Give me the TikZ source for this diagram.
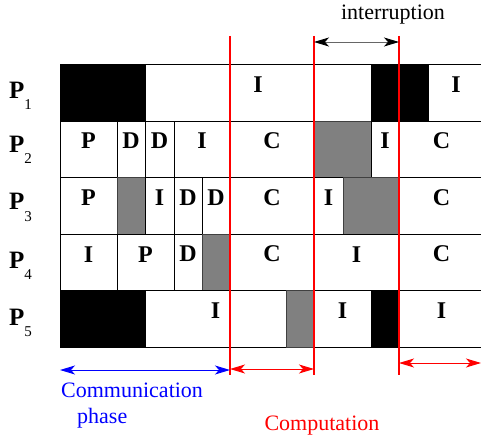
\documentclass[tikz,border=0pt]{standalone}
\usepackage{fontspec}
\setmainfont{Liberation Serif}
\usetikzlibrary{arrows.meta, fit, positioning}

\begin{document}
\begin{tikzpicture}[x=1pt, y=-1pt]
\tikzset{
>={Stealth[length=15pt, width=9pt, inset=4pt]},
  cell/.style={
    rectangle,
    draw=black, line width=0.8pt,
    inner sep=0pt,
    font=\fontsize{24}{24}\selectfont\bfseries},
  busy/.style={cell, fill=black},
  wait/.style={cell, fill=black!50, draw=black!75},
  plabel/.style={anchor=base west, inner sep=0pt,
    font=\fontsize{25}{25}\selectfont\bfseries},
  redline/.style={draw=red, line width=1.3pt},
  caption/.style={inner sep=0pt, font=\fontsize{22}{26}\selectfont},
}
\useasboundingbox (0,0) rectangle (481,438);

% process labels
\node[plabel] (lab1) at (9,99)  {P\raisebox{-11pt}{\normalfont\fontsize{15}{15}\selectfont 1}};
\node[plabel] (lab2) at (9,153) {P\raisebox{-11pt}{\normalfont\fontsize{15}{15}\selectfont 2}};
\node[plabel] (lab3) at (9,210) {P\raisebox{-11pt}{\normalfont\fontsize{15}{15}\selectfont 3}};
\node[plabel] (lab4) at (9,268) {P\raisebox{-11pt}{\normalfont\fontsize{15}{15}\selectfont 4}};
\node[plabel] (lab5) at (9,325) {P\raisebox{-11pt}{\normalfont\fontsize{15}{15}\selectfont 5}};

% P1
\node[busy, fit={(60,64) (145,121)}] (p1a) {};
\node[cell, fit={(145,64) (371,121)}] (p1b) {I};
\node[busy, fit={(371,64) (428,121)}] (p1c) {};
\node[cell, fit={(428,64) (484,121)}] (p1d) {I};

% P2
\node[cell, fit={(60,121) (117,177)}] (p2a) {P};
\node[cell, fit={(117,121) (145,177)}] (p2b) {D};
\node[cell, fit={(145,121) (174,177)}] (p2c) {D};
\node[cell, fit={(174,121) (230,177)}] (p2d) {I};
\node[cell, fit={(230,121) (314,177)}] (p2e) {C};
\node[wait, fit={(314,121) (371,177)}] (p2f) {};
\node[cell, fit={(371,121) (399,177)}] (p2g) {I};
\node[cell, fit={(399,121) (484,177)}] (p2h) {C};

% P3
\node[cell, fit={(60,177) (117,234)}] (p3a) {P};
\node[wait, fit={(117,177) (145,234)}] (p3b) {};
\node[cell, fit={(145,177) (174,234)}] (p3c) {I};
\node[cell, fit={(174,177) (202,234)}] (p3d) {D};
\node[cell, fit={(202,177) (230,234)}] (p3e) {D};
\node[cell, fit={(230,177) (314,234)}] (p3f) {C};
\node[cell, fit={(314,177) (343,234)}] (p3g) {I};
\node[wait, fit={(343,177) (399,234)}] (p3h) {};
\node[cell, fit={(399,177) (484,234)}] (p3i) {C};

% P4
\node[cell, fit={(60,234) (117,290)}] (p4a) {I};
\node[cell, fit={(117,234) (174,290)}] (p4b) {P};
\node[cell, fit={(174,234) (202,290)}] (p4c) {D};
\node[wait, fit={(202,234) (230,290)}] (p4d) {};
\node[cell, fit={(230,234) (314,290)}] (p4e) {C};
\node[cell, fit={(314,234) (399,290)}] (p4f) {I};
\node[cell, fit={(399,234) (484,290)}] (p4g) {C};

% P5
\node[busy, fit={(60,290) (145,347)}] (p5a) {};
\node[cell, fit={(145,290) (286,347)}] (p5b) {I};
\node[wait, fit={(286,290) (314,347)}] (p5c) {};
\node[cell, fit={(314,290) (371,347)}] (p5d) {I};
\node[busy, fit={(371,290) (399,347)}] (p5e) {};
\node[cell, fit={(399,290) (484,347)}] (p5f) {I};

% phase borders
\coordinate (top1) at (230,36);  \coordinate (bot1) at (230,375);
\coordinate (top2) at (314,36);  \coordinate (bot2) at (314,375);
\coordinate (top3) at (399,36);  \coordinate (bot3) at (399,375);
\draw[redline] (top1) -- (bot1);
\draw[redline] (top2) -- (bot2);
\draw[redline] (top3) -- (bot3);

% interruption
\coordinate (intl) at (314,42);
\coordinate (intr) at (399,42);
\draw[<->, draw=black!60, line width=0.9pt,
  >={Stealth[length=15pt, width=9pt, inset=4pt, color=black]}] (intl) -- (intr);
\node[caption, anchor=base] (interr) at (393,20) {interruption};

% phases
\coordinate (coml) at (60,370);  \coordinate (comr) at (230,370);
\coordinate (cp1l) at (230,369); \coordinate (cp1r) at (314,369);
\coordinate (cp2l) at (399,363); \coordinate (cp2r) at (481,363);
\draw[<->, blue, line width=1pt] (coml) -- (comr);
\draw[<->, red, line width=1pt] (cp1l) -- (cp1r);
\draw[<->, red, line width=1pt] (cp2l) -- (cp2r);

\node[caption, text=blue, anchor=north west, align=left] (comm) at (61,383)
  {Communication\\\hspace*{16pt}phase};
\node[caption, text=red, anchor=base] (comp) at (322,430) {Computation};

\end{tikzpicture}
\end{document}
